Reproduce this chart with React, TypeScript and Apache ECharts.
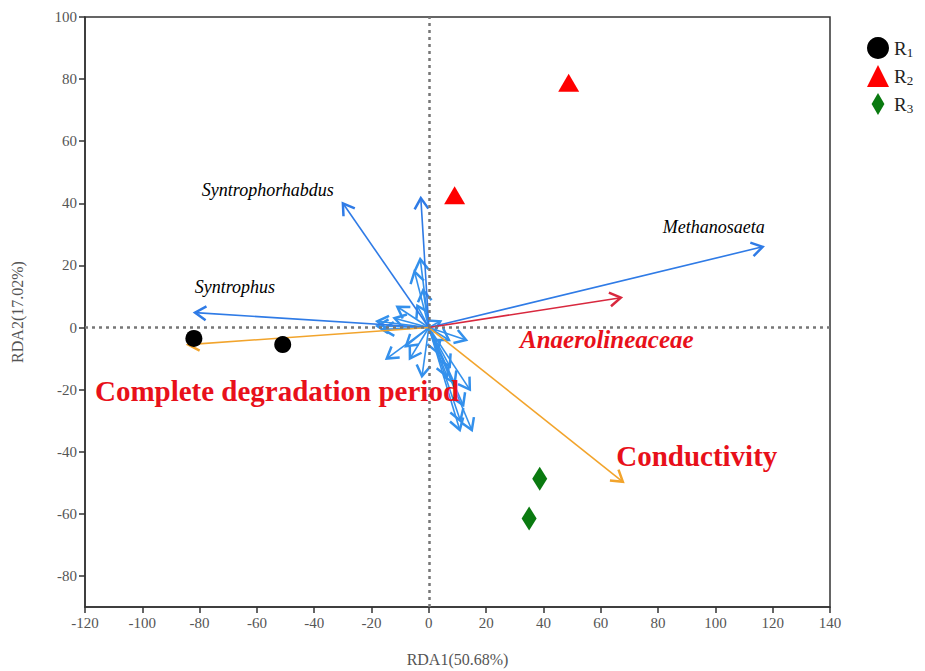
import React, { useEffect, useRef } from "react";
import * as echarts from "echarts";

// ---- data ----
const xTicks = [-120, -100, -80, -60, -40, -20, 0, 20, 40, 60, 80, 100, 120, 140];
const yTicks = [-80, -60, -40, -20, 0, 20, 40, 60, 80, 100];

const R1 = [[-82, -3.5], [-51, -5.5]];
const R2 = [[48.8, 78.8], [9, 42.6]];
const R3 = [[38.7, -48.7], [35, -61.5]];

// long species arrows (blue)
const speciesArrows = [
  { name: "Methanosaeta", value: [116.5, 26] },
  { name: "Syntrophorhabdus", value: [-30, 40] },
  { name: "Syntrophus", value: [-81.6, 4.8] },
  { name: "", value: [-2.8, 41.7] },
];
// small species arrows in the centre cluster (blue)
const smallArrows = [
  [-3, 22], [-5, 18], [-18, 2], [-16, -0.6], [-14.7, -10], [-6.6, -10],
  [-2.4, -15.7], [6.3, -15.7], [7.3, -12.5], [13, -4], [14.3, -20],
  [12, -25], [10.8, -33], [15, -33], [-4, 7], [-11, 6.7], [7, -4], [4, 2],
  [-12, 3], [-8, -6], [3, -8], [9, -18], [-2, 12], [-18, 0.5], [11, -30],
];
const redArrows = [{ name: "Anaerolineaceae", value: [67, 9.6] }];
const envArrows = [
  { name: "Conductivity", value: [67.7, -49.7] },
  { name: "Complete degradation period", value: [-84, -5.5] },
];

// annotation anchors (data coordinates)
const annotations = [
  { name: "Syntrophorhabdus", value: [-56.2, 44.4], kind: "sp" },
  { name: "Syntrophus", value: [-67.7, 13.2], kind: "sp" },
  { name: "Methanosaeta", value: [99.4, 32.5], kind: "sp" },
  { name: "Anaerolineaceae", value: [62.1, -3.8], kind: "red" },
  { name: "Complete degradation period", value: [-53, -20.5], kind: "env" },
  { name: "Conductivity", value: [93.5, -41.5], kind: "env" },
];

const SERIF = "'Liberation Serif', 'Times New Roman', serif";

function arrowRenderer(color: string, width: number) {
  return (params: any, api: any) => {
    const o = api.coord([0, 0]);
    const t = api.coord([api.value(0), api.value(1)]);
    const a = Math.atan2(t[1] - o[1], t[0] - o[0]);
    const L = 13;
    const th = (32 * Math.PI) / 180;
    const p1 = [t[0] - L * Math.cos(a - th), t[1] - L * Math.sin(a - th)];
    const p2 = [t[0] - L * Math.cos(a + th), t[1] - L * Math.sin(a + th)];
    return {
      type: "group",
      children: [
        {
          type: "line",
          shape: { x1: o[0], y1: o[1], x2: t[0], y2: t[1] },
          style: { stroke: color, lineWidth: width },
        },
        {
          type: "polyline",
          shape: { points: [p1, t, p2] },
          style: { stroke: color, lineWidth: 2.5, fill: null, lineJoin: "miter" },
        },
      ],
    };
  };
}

export default function App() {
  const ref = useRef<HTMLDivElement>(null);
  useEffect(() => {
    if (!ref.current) return;
    const chart = echarts.init(ref.current, undefined, { renderer: "svg" });
    const labelStyles: any = {
      sp: { fontFamily: SERIF, fontStyle: "italic", fontSize: 18, color: "#000" },
      red: { fontFamily: SERIF, fontStyle: "italic", fontWeight: "bold", fontSize: 25, color: "#e8101a" },
      env: { fontFamily: SERIF, fontWeight: "bold", fontSize: 29, color: "#e8101a" },
    };
    chart.setOption({
      animation: false,
      backgroundColor: "#fff",
      grid: { left: 85, right: 95, top: 17, bottom: 64, show: true, borderColor: "#333", borderWidth: 1.5, outerBoundsMode: "none" },
      legend: {
        orient: "vertical",
        left: 862,
        top: 32,
        itemWidth: 22,
        itemHeight: 22,
        itemGap: 6,
        data: ["R1", "R2", "R3"],
        formatter: (n: string) => "R{s|" + n.slice(1) + "}",
        textStyle: {
          fontFamily: SERIF,
          fontSize: 19,
          color: "#222",
          rich: { s: { fontFamily: SERIF, fontSize: 13, color: "#222", padding: [9, 0, 0, 0] } },
        },
      },
      xAxis: {
        type: "value",
        min: -120,
        max: 140,
        name: "RDA1(50.68%)",
        nameLocation: "middle",
        nameGap: 44,
        nameTextStyle: { fontFamily: SERIF, fontSize: 16, color: "#555" },
        axisLine: { show: true, onZero: false, lineStyle: { color: "#333", width: 1.5 } },
        axisTick: { show: true, length: 6, customValues: xTicks, lineStyle: { color: "#333", width: 1.5 } },
        axisLabel: { customValues: xTicks, fontFamily: SERIF, fontSize: 15, color: "#555", margin: 8 },
        splitLine: { show: false },
      },
      yAxis: {
        type: "value",
        min: -90,
        max: 100,
        name: "RDA2(17.02%)",
        nameLocation: "middle",
        nameGap: 60,
        nameTextStyle: { fontFamily: SERIF, fontSize: 16, color: "#555" },
        axisLine: { show: true, onZero: false, lineStyle: { color: "#333", width: 1.5 } },
        axisTick: { show: true, length: 6, customValues: yTicks, lineStyle: { color: "#333", width: 1.5 } },
        axisLabel: { customValues: yTicks, fontFamily: SERIF, fontSize: 15, color: "#555", margin: 8 },
        splitLine: { show: false },
      },
      series: [
        {
          type: "scatter",
          name: "zero",
          data: [],
          silent: true,
          markLine: {
            silent: true,
            symbol: "none",
            label: { show: false },
            lineStyle: { color: "#777", width: 2.5, type: [3, 4] },
            data: [{ xAxis: 0 }, { yAxis: 0 }],
          },
        },
        {
          type: "custom",
          name: "smallArrows",
          renderItem: arrowRenderer("#3390ec", 1.6),
          encode: { x: 0, y: 1 },
          data: smallArrows,
          z: 3,
        },
        {
          type: "custom",
          name: "species",
          renderItem: arrowRenderer("#2f7be6", 1.6),
          encode: { x: 0, y: 1 },
          data: speciesArrows,
          z: 3,
        },
        {
          type: "custom",
          name: "red",
          renderItem: arrowRenderer("#d8283e", 1.6),
          encode: { x: 0, y: 1 },
          data: redArrows,
          z: 3,
        },
        {
          type: "custom",
          name: "env",
          renderItem: arrowRenderer("#f2a42c", 1.6),
          encode: { x: 0, y: 1 },
          data: envArrows,
          z: 3,
        },
        {
          type: "scatter",
          name: "R1",
          symbol: "circle",
          symbolSize: 17,
          itemStyle: { color: "#000", opacity: 1 },
          data: R1,
          z: 4,
        },
        {
          type: "scatter",
          name: "R2",
          symbol: "triangle",
          symbolSize: [21, 18],
          itemStyle: { color: "#ff0000", opacity: 1 },
          data: R2,
          z: 4,
        },
        {
          type: "scatter",
          name: "R3",
          symbol: "path://M7,0L14,12L7,24L0,12Z",
          symbolKeepAspect: false,
          symbolSize: [15, 24],
          itemStyle: { color: "#0a7a10", opacity: 1 },
          data: R3,
          z: 4,
        },
        {
          type: "scatter",
          name: "annotations",
          symbolSize: 0,
          silent: true,
          itemStyle: { opacity: 1 },
          z: 5,
          data: annotations.map((a) => ({
            name: a.name,
            value: a.value,
            label: { show: true, position: "inside", formatter: "{b}", opacity: 1, ...labelStyles[a.kind] },
          })),
        },
      ],
    });
    return () => chart.dispose();
  }, []);
  return <div ref={ref} style={{ position: "fixed", left: 0, top: 0, width: 925, height: 671 }} />;
}
